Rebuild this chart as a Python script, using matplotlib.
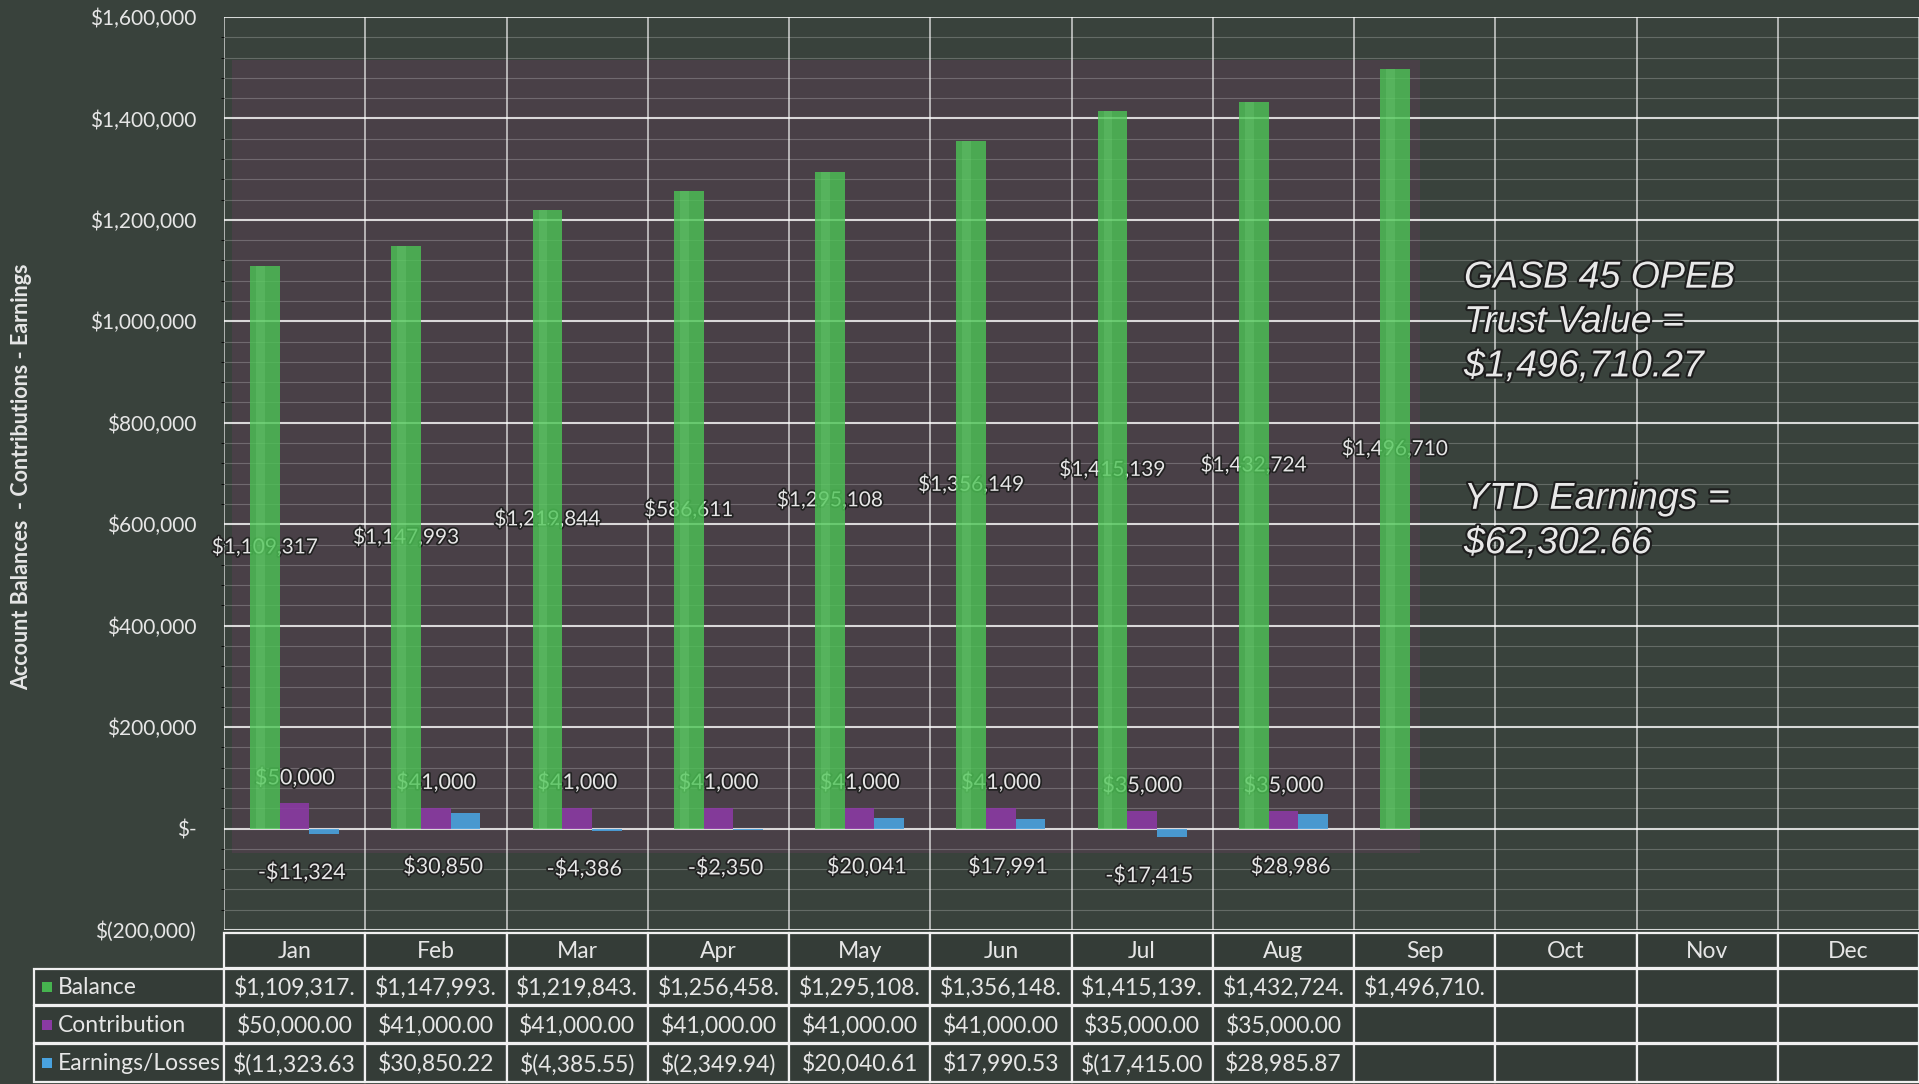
import numpy as np
import matplotlib.pyplot as plt
from matplotlib.patches import Rectangle
from matplotlib.ticker import FuncFormatter, MultipleLocator
import matplotlib.patheffects as pe

plt.rcParams['font.family'] = ['Lato', 'DejaVu Sans']

months = ["Jan", "Feb", "Mar", "Apr", "May", "Jun", "Jul", "Aug", "Sep", "Oct", "Nov", "Dec"]
balance = [1109317, 1147993, 1219843, 1256458, 1295108, 1356148, 1415139, 1432724, 1496710]
bal_labels = ["$1,109,317", "$1,147,993", "$1,219,844", "$586,611", "$1,295,108",
              "$1,356,149", "$1,415,139", "$1,432,724", "$1,496,710"]
contribution = [50000, 41000, 41000, 41000, 41000, 41000, 35000, 35000]
earnings = [-11323.63, 30850.22, -4385.55, -2349.94, 20040.61, 17990.53, -17415.00, 28985.87]
series = ["Balance", "Contribution", "Earnings/Losses"]
colors = ["#46b44f", "#8a3aa3", "#49a2df"]

bg = "#39423c"
txt = "#e6e6e6"
W, H = 1919, 1084
fig = plt.figure(figsize=(W / 100, H / 100), dpi=100, facecolor=bg)

# main plot area, in pixel terms: left 224, top 17, bottom 930
ax = fig.add_axes([224 / W, 1 - 930 / H, 1 - 224 / W, (930 - 17) / H])
ax.set_facecolor(bg)
ax.set_xlim(-0.5, 11.5)
ax.set_ylim(-200000, 1600000)

# 3D back wall look
ax.add_patch(Rectangle((-0.44, -48000), 8.41, 1564000, facecolor="#5e3f55", alpha=0.45,
                       edgecolor="none", zorder=0.5))

ax.yaxis.set_major_locator(MultipleLocator(200000))
ax.yaxis.set_minor_locator(MultipleLocator(40000))
ax.grid(axis="y", which="major", color="white", alpha=0.8, lw=1.5, zorder=1)
ax.grid(axis="y", which="minor", color="white", alpha=0.22, lw=0.8, zorder=1)
for xb in np.arange(-0.5, 12, 1):
    ax.axvline(xb, color="white", alpha=0.7, lw=1.2, zorder=1)
for s in ax.spines.values():
    s.set_visible(False)


def acct(v, pos=None):
    if v == 0:
        return "$-"
    if v < 0:
        return f"$({abs(v):,.0f})"
    return f"${v:,.0f}"


ax.yaxis.set_major_formatter(FuncFormatter(acct))
ax.tick_params(axis="y", length=0, labelsize=15, labelcolor=txt, pad=20)
ax.set_xticks([])

# labels sit behind the slightly see-through bars, as in the 3D excel chart
outline = [pe.withStroke(linewidth=2.5, foreground="#222222")]
x = np.arange(len(months))
w = 0.21

xb = x[:len(balance)] - w
ax.bar(xb, balance, w, color="#4cc455", alpha=0.8, zorder=3)
ax.bar(xb - w * 0.15, balance, w * 0.3, color="#86e08a", alpha=0.2, zorder=3.1)
for xi, v, lab in zip(xb, balance, bal_labels):
    ax.text(xi, v / 2, lab, ha="center", va="center", fontsize=15, color=txt,
            path_effects=outline, zorder=2)

xc = x[:len(contribution)]
ax.bar(xc, contribution, w, color=colors[1], alpha=0.9, zorder=3)
for xi, v in zip(xc, contribution):
    ax.annotate(f"${v:,.0f}", (xi, v), xytext=(0, 18), textcoords="offset points",
                ha="center", va="center", fontsize=15.5, color=txt,
                path_effects=outline, zorder=2)

xe = x[:len(earnings)] + w
ax.bar(xe, earnings, w, color=colors[2], alpha=0.9, zorder=3)
for xi, v in zip(x[:len(earnings)], earnings):
    lab = f"-${abs(v):,.0f}" if v < 0 else f"${v:,.0f}"
    ax.text(xi + 0.05, min(v, 0) - 76000, lab, ha="center", va="center", fontsize=15.5,
            color=txt, path_effects=outline, zorder=2)

fig.text(22 / W, 1 - 477 / H, "Account Balances  - Contributions - Earnings", rotation=90,
         ha="center", va="center", fontsize=15.5, fontweight="bold", color=txt)

big = [pe.withStroke(linewidth=3, foreground="#1e1e1e")]
fig.text(1464 / W, 1 - 322 / H, "GASB 45 OPEB\nTrust Value =\n$1,496,710.27",
         family="Liberation Sans", style="italic", fontsize=27, color="#e8e8e8",
         linespacing=1.3, ha="left", va="center", path_effects=big)
fig.text(1464 / W, 1 - 521 / H, "YTD Earnings =\n$62,302.66",
         family="Liberation Sans", style="italic", fontsize=27, color="#e8e8e8",
         linespacing=1.3, ha="left", va="center", path_effects=big)

# data table under the chart, drawn in pixel coordinates
tab = fig.add_axes([0, 0, 1, 1], facecolor="none")
tab.set_xlim(0, W)
tab.set_ylim(H, 0)
tab.axis("off")
col0 = 224
colw = (W - col0) / 12
rows = [(933, 968), (969, 1005), (1006, 1043), (1044, 1082)]


def cell(x0, x1, y0, y1, s=None):
    tab.add_patch(Rectangle((x0, y0), x1 - x0, y1 - y0, facecolor="#343c37",
                            edgecolor="#f0f0f0", lw=1.6))
    if s:
        tab.text((x0 + x1) / 2, (y0 + y1) / 2 + 1, s, ha="center", va="center",
                 fontsize=16.5, color=txt)


def trunc(s):
    return s[:11]


table_vals = [
    [trunc(f"${v:,.2f}") for v in balance],
    [trunc(f"${v:,.2f}") for v in contribution],
    [trunc(f"$({abs(v):,.2f})" if v < 0 else f"${v:,.2f}") for v in earnings],
]

for i, m in enumerate(months):
    cell(col0 + i * colw, col0 + (i + 1) * colw, *rows[0], m)
for r, (name, vals) in enumerate(zip(series, table_vals)):
    y0, y1 = rows[r + 1]
    cell(34, col0, y0, y1)
    tab.add_patch(Rectangle((42, (y0 + y1) / 2 - 5), 10, 10, facecolor=colors[r], edgecolor="none"))
    tab.text(58, (y0 + y1) / 2 + 1, name, ha="left", va="center", fontsize=16.5, color=txt)
    for i in range(12):
        s = vals[i] if i < len(vals) else None
        cell(col0 + i * colw, col0 + (i + 1) * colw, y0, y1, s)

fig.savefig("out.png", dpi=100, facecolor=bg)
